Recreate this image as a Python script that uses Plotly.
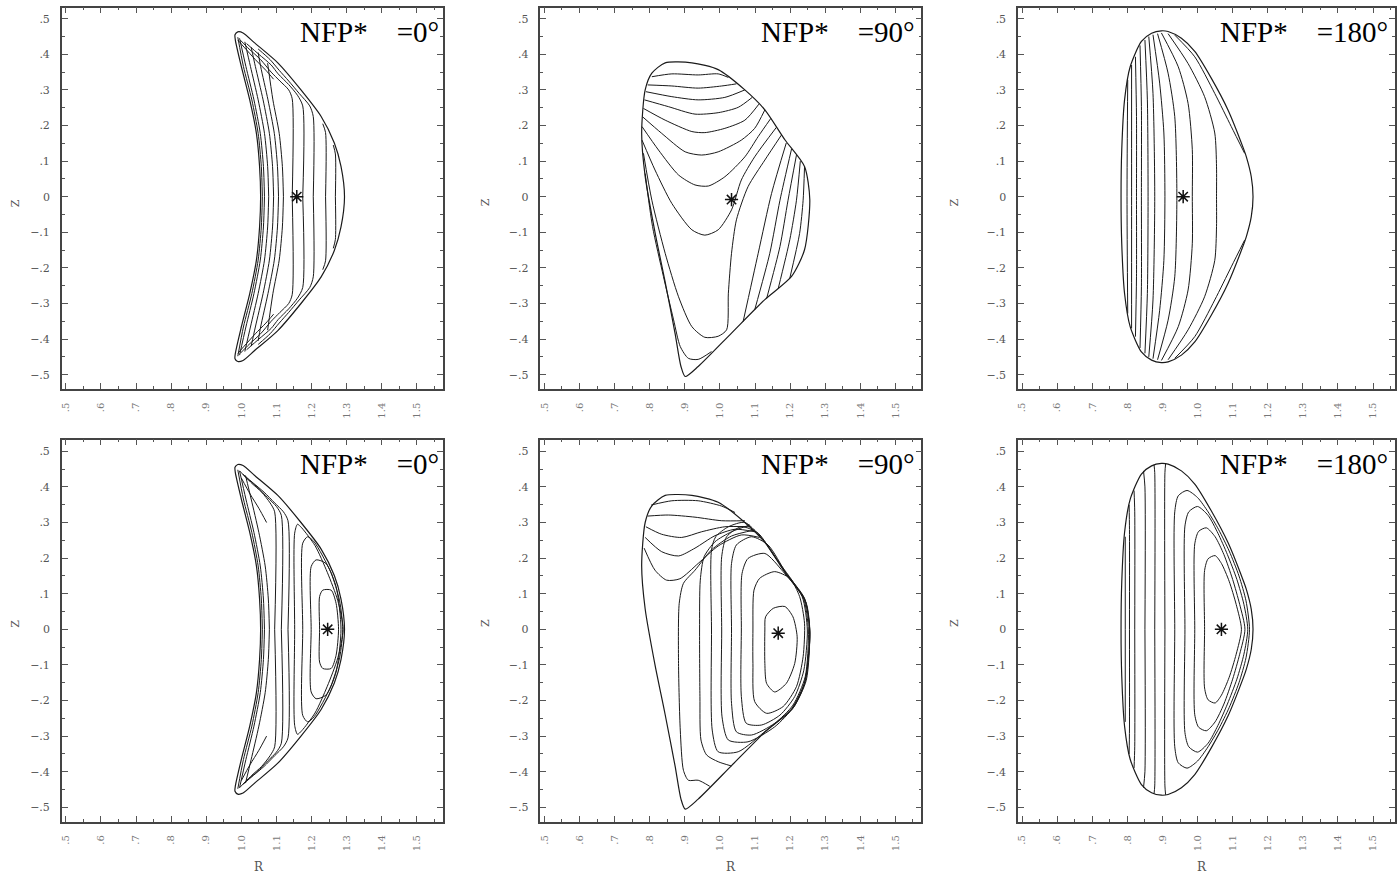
import plotly.graph_objects as go

# ---------------- axis ticks ----------------
X_TICKS = [0.5, 0.6, 0.7, 0.8, 0.9, 1.0, 1.1, 1.2, 1.3, 1.4, 1.5]
X_TICKTEXT = [".5", ".6", ".7", ".8", ".9", "1.0", "1.1", "1.2", "1.3", "1.4", "1.5"]
Y_TICKS = [0.5, 0.4, 0.3, 0.2, 0.1, 0.0, -0.1, -0.2, -0.3, -0.4, -0.5]
Y_TICKTEXT = [".5", ".4", ".3", ".2", ".1", "0", "\u2212.1", "\u2212.2", "\u2212.3", "\u2212.4", "\u2212.5"]
PANEL_LABELS = ["NFP*\u00a0\u00a0\u00a0\u00a0=0\u00b0", "NFP*\u00a0\u00a0\u00a0\u00a0=90\u00b0", "NFP*\u00a0\u00a0\u00a0\u00a0=180\u00b0"]

# ---------------- boundaries (R, Z) ----------------
# up-down symmetric sections: upper half only (Z >= 0), mirrored below
BND0_R = [1.055, 1.052, 1.043, 1.024, 1.000, 0.983, 0.982, 0.990, 1.005, 1.038, 1.104, 1.170, 1.227, 1.265, 1.284, 1.294]
BND0_Z = [0.000, 0.085, 0.178, 0.272, 0.366, 0.440, 0.455, 0.463, 0.460, 0.432, 0.376, 0.300, 0.226, 0.151, 0.085, 0.000]

BND180_R = [0.782, 0.784, 0.792, 0.808, 0.840, 0.869, 0.897, 0.916, 0.954, 0.992, 1.039, 1.087, 1.129, 1.139, 1.153, 1.158]
BND180_Z = [0.000, 0.132, 0.272, 0.365, 0.436, 0.459, 0.466, 0.464, 0.445, 0.408, 0.333, 0.243, 0.140, 0.112, 0.056, 0.000]

# 90 deg section: full closed outline
BND90_R = [0.787, 0.806, 0.844, 0.920, 0.995, 1.071, 1.128, 1.185, 1.241, 1.256, 1.241, 1.204, 1.128, 1.033,
           0.938, 0.901, 0.889, 0.872, 0.844, 0.815, 0.787, 0.777, 0.787]
BND90_Z = [0.300, 0.347, 0.376, 0.376, 0.357, 0.300, 0.244, 0.160, 0.085, -0.008, -0.149, -0.224, -0.289, -0.383,
           -0.477, -0.505, -0.477, -0.383, -0.240, -0.100, 0.057, 0.179, 0.300]

# ---------------- magnetic axes ----------------
AXIS_R = [1.158, 1.033, 0.959, 1.246, 1.166, 1.068]
AXIS_Z = [0.000, -0.008, 0.000, 0.000, -0.011, 0.000]

# ---------------- panel 1 (top, 0 deg) : upper halves ----------------
P1_CURVES = [
    ([1.060, 1.057, 1.048, 1.030, 1.006, 0.990], [0, 0.085, 0.178, 0.272, 0.366, 0.448]),
    ([1.066, 1.063, 1.054, 1.036, 1.013, 0.995], [0, 0.085, 0.178, 0.272, 0.366, 0.445]),
    ([1.078, 1.075, 1.066, 1.048, 1.026, 1.010], [0, 0.085, 0.178, 0.272, 0.366, 0.435]),
    ([1.092, 1.089, 1.080, 1.062, 1.040, 1.028], [0, 0.085, 0.178, 0.272, 0.366, 0.420]),
    ([1.106, 1.103, 1.094, 1.076, 1.055, 1.048], [0, 0.085, 0.178, 0.272, 0.366, 0.405]),
    ([1.120, 1.117, 1.108, 1.090, 1.075], [0, 0.085, 0.178, 0.272, 0.375]),
    ([1.092, 1.070, 1.040, 1.008, 0.990], [0.330, 0.355, 0.385, 0.420, 0.440]),
    ([1.145, 1.145, 1.135, 1.110, 1.085, 1.055, 1.022, 0.997], [0, 0.275, 0.300, 0.325, 0.350, 0.385, 0.415, 0.440]),
    ([1.175, 1.175, 1.160, 1.135, 1.105, 1.085, 1.050, 1.015], [0, 0.255, 0.285, 0.315, 0.345, 0.370, 0.400, 0.430]),
    ([1.205, 1.205, 1.195, 1.165, 1.135, 1.108, 1.082, 1.048], [0, 0.225, 0.255, 0.290, 0.325, 0.355, 0.385, 0.415]),
    ([1.240, 1.240, 1.232], [0, 0.180, 0.205]),
    ([1.268, 1.268, 1.262], [0, 0.120, 0.145]),
]

# ---------------- panel 4 (bottom, 0 deg) : upper halves ----------------
P4_CURVES = [
    ([1.223, 1.223, 1.232, 1.256, 1.270, 1.277], [0, 0.092, 0.110, 0.110, 0.073, 0]),
    ([1.199, 1.199, 1.213, 1.241, 1.270, 1.284], [0, 0.176, 0.195, 0.185, 0.120, 0]),
    ([1.175, 1.175, 1.189, 1.208, 1.255, 1.280, 1.289], [0, 0.242, 0.260, 0.245, 0.160, 0.080, 0]),
    ([1.152, 1.152, 1.160, 1.172, 1.210, 1.245, 1.275, 1.290], [0, 0.270, 0.295, 0.285, 0.235, 0.160, 0.080, 0]),
    ([1.133, 1.133, 1.120, 1.095, 1.065, 1.035, 1.005], [0, 0.305, 0.330, 0.355, 0.385, 0.410, 0.435]),
    ([1.114, 1.114, 1.100, 1.075, 1.045, 1.015, 0.995], [0, 0.320, 0.345, 0.370, 0.400, 0.425, 0.445]),
    ([1.095, 1.095, 1.082, 1.058, 1.030, 1.005], [0, 0.330, 0.355, 0.385, 0.410, 0.435]),
    ([1.060, 1.057, 1.048, 1.030, 1.006, 0.990], [0, 0.085, 0.178, 0.272, 0.366, 0.448]),
    ([1.066, 1.063, 1.054, 1.036, 1.013, 0.995], [0, 0.085, 0.178, 0.272, 0.366, 0.445]),
    ([1.080, 1.077, 1.068, 1.050, 1.028, 1.012], [0, 0.085, 0.178, 0.272, 0.366, 0.432]),
    ([1.072, 1.050, 1.025, 1.000], [0.300, 0.340, 0.380, 0.425]),
]

# ---------------- panel 3 (top, 180 deg) : upper halves ----------------
P3_CURVES = [
    ([0.935, 0.992, 1.049, 1.096, 1.134], [0.454, 0.393, 0.290, 0.197, 0.122]),
    ([0.916, 0.973, 1.020, 1.049, 1.054, 1.054], [0.458, 0.374, 0.281, 0.179, 0.084, 0]),
    ([0.897, 0.945, 0.973, 0.985, 0.985], [0.460, 0.365, 0.262, 0.132, 0]),
    ([0.886, 0.916, 0.935, 0.941], [0.458, 0.347, 0.225, 0]),
    ([0.873, 0.892, 0.904, 0.907], [0.455, 0.319, 0.179, 0]),
    ([0.861, 0.873, 0.878], [0.450, 0.290, 0]),
    ([0.850, 0.857, 0.859], [0.440, 0.272, 0]),
    ([0.836, 0.840, 0.840], [0.425, 0.253, 0]),
    ([0.823, 0.826, 0.826], [0.393, 0.225, 0]),
    ([0.812, 0.812], [0.370, 0]),
    ([0.801, 0.799], [0.328, 0]),
]

# ---------------- panel 6 (bottom, 180 deg) : upper halves ----------------
P6_CURVES = [
    ([1.020, 1.020, 1.030, 1.050, 1.068, 1.090, 1.110, 1.125], [0, 0.165, 0.198, 0.207, 0.185, 0.135, 0.070, 0]),
    ([0.992, 0.992, 1.003, 1.025, 1.050, 1.075, 1.100, 1.120, 1.135], [0, 0.240, 0.275, 0.285, 0.260, 0.210, 0.140, 0.070, 0]),
    ([0.964, 0.964, 0.975, 1.000, 1.030, 1.058, 1.085, 1.112, 1.132, 1.143], [0, 0.290, 0.330, 0.345, 0.320, 0.270, 0.210, 0.140, 0.070, 0]),
    ([0.935, 0.935, 0.945, 0.970, 1.000, 1.030, 1.060, 1.090, 1.118, 1.138, 1.148], [0, 0.330, 0.375, 0.390, 0.370, 0.330, 0.280, 0.220, 0.150, 0.080, 0]),
    ([0.907, 0.907, 0.909], [0, 0.440, 0.465]),
    ([0.878, 0.878, 0.876], [0, 0.440, 0.462]),
    ([0.850, 0.850, 0.846], [0, 0.400, 0.445]),
    ([0.821, 0.821, 0.819], [0, 0.330, 0.390]),
    ([0.806, 0.806, 0.805], [0, 0.280, 0.350]),
    ([0.794, 0.794], [0, 0.260]),
]

# ---------------- panel 2 (top, 90 deg) : full curves ----------------
P2_CURVES = [
    ([0.806, 0.863, 0.938, 0.995, 1.024], [0.337, 0.345, 0.342, 0.345, 0.335]),
    ([0.794, 0.863, 0.938, 1.005, 1.047], [0.314, 0.311, 0.305, 0.311, 0.317]),
    ([0.789, 0.863, 0.938, 1.014, 1.071], [0.295, 0.281, 0.272, 0.279, 0.300]),
    ([0.785, 0.853, 0.929, 0.995, 1.052, 1.092], [0.272, 0.253, 0.232, 0.236, 0.251, 0.279]),
    ([0.782, 0.844, 0.920, 0.957, 1.014, 1.071, 1.111], [0.248, 0.215, 0.183, 0.180, 0.192, 0.215, 0.260]),
    ([0.779, 0.834, 0.901, 0.948, 0.995, 1.061, 1.099, 1.128], [0.225, 0.178, 0.126, 0.117, 0.126, 0.159, 0.192, 0.244]),
    ([0.778, 0.825, 0.882, 0.929, 0.967, 1.014, 1.071, 1.109, 1.145], [0.197, 0.131, 0.061, 0.033, 0.030, 0.056, 0.112, 0.169, 0.220]),
    ([0.778, 0.815, 0.863, 0.920, 0.957, 0.995, 1.033, 1.061, 1.099, 1.161],
     [0.159, 0.075, -0.019, -0.093, -0.108, -0.093, -0.037, 0.047, 0.112, 0.195]),
    ([0.782, 0.806, 0.844, 0.882, 0.920, 0.957, 0.995, 1.019, 1.024, 1.033, 1.047, 1.080, 1.128, 1.175],
     [0.122, -0.010, -0.159, -0.281, -0.365, -0.395, -0.392, -0.374, -0.271, -0.159, -0.065, 0.028, 0.103, 0.173]),
    ([0.787, 0.808, 0.839, 0.868, 0.887, 0.910, 0.938, 0.976], [0.065, -0.084, -0.224, -0.346, -0.421, -0.454, -0.457, -0.435]),
    ([1.241, 1.237, 1.227, 1.199], [0.084, -0.010, -0.103, -0.229]),
    ([1.229, 1.218, 1.199, 1.166], [0.100, -0.010, -0.121, -0.258]),
    ([1.218, 1.194, 1.171, 1.133], [0.117, -0.010, -0.140, -0.286]),
    ([1.204, 1.171, 1.142, 1.099], [0.134, -0.010, -0.159, -0.318]),
    ([1.189, 1.147, 1.109, 1.066], [0.151, 0.009, -0.159, -0.351]),
]

# ---------------- panel 5 (bottom, 90 deg) : full curves ----------------
P5_CURVES = [
    ([0.804, 0.863, 0.938, 1.005, 1.043], [0.349, 0.361, 0.361, 0.346, 0.328]),
    ([0.794, 0.853, 0.929, 1.005, 1.071], [0.318, 0.321, 0.315, 0.305, 0.305]),
    ([0.789, 0.834, 0.891, 0.948, 1.014, 1.085], [0.288, 0.267, 0.258, 0.274, 0.288, 0.288]),
    ([0.787, 0.834, 0.882, 0.929, 0.986, 1.043, 1.099], [0.258, 0.218, 0.206, 0.228, 0.263, 0.281, 0.274]),
    ([0.784, 0.815, 0.848, 0.886, 0.938, 0.995, 1.061, 1.113],
     [0.228, 0.166, 0.138, 0.142, 0.185, 0.234, 0.265, 0.258]),
    ([1.128, 1.130, 1.152, 1.185, 1.208, 1.220, 1.213, 1.189, 1.156, 1.133, 1.128, 1.128],
     [-0.002, 0.035, 0.059, 0.064, 0.035, -0.021, -0.096, -0.152, -0.176, -0.152, -0.096, -0.002]),
    ([1.094, 1.097, 1.113, 1.156, 1.199, 1.227, 1.241, 1.237, 1.218, 1.180, 1.133, 1.099, 1.094, 1.094],
     [-0.002, 0.110, 0.143, 0.162, 0.143, 0.092, 0.017, -0.077, -0.161, -0.217, -0.236, -0.203, -0.096, -0.002]),
    ([1.061, 1.063, 1.080, 1.128, 1.180, 1.234, 1.249, 1.239, 1.213, 1.171, 1.118, 1.075, 1.061, 1.061],
     [-0.002, 0.157, 0.199, 0.213, 0.162, 0.092, -0.002, -0.115, -0.189, -0.241, -0.269, -0.264, -0.189, -0.002]),
    ([1.033, 1.033, 1.047, 1.090, 1.137, 1.189, 1.238, 1.252, 1.243, 1.208, 1.156, 1.090, 1.047, 1.033, 1.033],
     [-0.002, 0.185, 0.237, 0.260, 0.237, 0.157, 0.087, -0.002, -0.133, -0.213, -0.264, -0.297, -0.288, -0.208, -0.002]),
    ([1.005, 1.005, 1.019, 1.061, 1.109, 1.156, 1.208, 1.246, 1.256, 1.246, 1.211, 1.156, 1.080, 1.024, 1.006, 1.005],
     [-0.002, 0.204, 0.260, 0.288, 0.270, 0.204, 0.134, 0.073, -0.002, -0.143, -0.217, -0.274, -0.316, -0.311, -0.246, -0.002]),
    ([0.976, 0.976, 0.988, 1.024, 1.071, 1.128, 1.185, 1.241, 1.256, 1.243, 1.208, 1.133, 1.052, 0.995, 0.978, 0.976],
     [-0.002, 0.223, 0.260, 0.288, 0.300, 0.246, 0.162, 0.087, -0.007, -0.147, -0.222, -0.283, -0.344, -0.344, -0.283, -0.002]),
    ([1.085, 1.033, 0.986, 0.955, 0.944, 0.942, 0.943, 0.946, 0.962, 0.995, 1.033],
     [0.293, 0.274, 0.246, 0.204, 0.138, -0.002, -0.189, -0.311, -0.353, -0.372, -0.384]),
    ([1.099, 1.033, 0.976, 0.929, 0.896, 0.884, 0.882, 0.887, 0.896, 0.910, 0.938, 0.971],
     [0.279, 0.262, 0.223, 0.166, 0.129, 0.073, -0.096, -0.283, -0.396, -0.424, -0.424, -0.441]),
]


def mirror(r, z):
    """Complete an upper-half curve of an up-down symmetric section."""
    r, z = list(r), list(z)
    if z[-1] == 0:
        return r + r[-2::-1], z + [-v for v in z[-2::-1]]
    return r + [None] + r, z + [None] + [-v for v in z]


def collect(curves, symmetric):
    xs, ys = [], []
    for r, z in curves:
        if symmetric:
            r, z = mirror(r, z)
        xs += list(r) + [None]
        ys += list(z) + [None]
    return xs, ys


b0 = mirror(BND0_R, BND0_Z)
b180 = mirror(BND180_R, BND180_Z)
b90 = (BND90_R, BND90_Z)

panels = [
    (b0, collect(P1_CURVES, True)),
    (b90, collect(P2_CURVES, False)),
    (b180, collect(P3_CURVES, True)),
    (b0, collect(P4_CURVES, True)),
    (b90, collect(P5_CURVES, False)),
    (b180, collect(P6_CURVES, True)),
]

W, H = 1397, 895
col_px = [(60, 442), (540, 922), (1019, 1397)]
row_px = [(7.5, 389.0), (439.5, 821.5)]
row_zero = [196.7, 629.3]
PX_PER_UNIT_X = 352.0
PX_PER_UNIT_Y = 356.0

SERIF = "Liberation Serif, Times New Roman, Times, serif"

fig = go.Figure()
layout = dict(width=W, height=H, margin=dict(l=0, r=0, t=0, b=0), autosize=False,
              paper_bgcolor="white", plot_bgcolor="white", showlegend=False)

LINE = "#1a1a1a"
for i, ((br, bz), (cx, cy)) in enumerate(panels):
    row, col = divmod(i, 3)
    n = "" if i == 0 else str(i + 1)
    xa, ya = "x" + n, "y" + n
    fig.add_trace(go.Scatter(x=cx, y=cy, mode="lines", xaxis=xa, yaxis=ya,
                             line=dict(color=LINE, width=1, shape="spline", smoothing=0.7),
                             hoverinfo="skip"))
    fig.add_trace(go.Scatter(x=br, y=bz, mode="lines", xaxis=xa, yaxis=ya,
                             line=dict(color=LINE, width=1.2, shape="spline", smoothing=0.7),
                             hoverinfo="skip"))
    fig.add_trace(go.Scatter(x=[AXIS_R[i]], y=[AXIS_Z[i]], mode="markers", xaxis=xa, yaxis=ya,
                             marker=dict(symbol="asterisk-open", size=11, color="#111",
                                         line=dict(width=1.5, color="#111")),
                             hoverinfo="skip"))
    x0p, x1p = col_px[col]
    y0p, y1p = row_px[row]
    left_val = 0.5 - 4.0 / PX_PER_UNIT_X
    right_val = left_val + (x1p - x0p) / PX_PER_UNIT_X
    top_val = (row_zero[row] - y0p) / PX_PER_UNIT_Y
    bot_val = (row_zero[row] - y1p) / PX_PER_UNIT_Y
    common = dict(showline=True, linecolor="#444", linewidth=1.5, mirror="ticks",
                  ticks="inside", ticklen=6, tickwidth=1, tickcolor="#555",
                  showgrid=False, zeroline=False, fixedrange=True)
    layout["xaxis" + n] = dict(common, domain=[x0p / W, min(1.0, x1p / W)], range=[left_val, right_val],
                               anchor=ya, tickmode="array", tickvals=X_TICKS, ticktext=X_TICKTEXT,
                               tickangle=-90, ticklabelstandoff=8,
                               tickfont=dict(family="DejaVu Serif", size=10, color="#777"),
                               minor=dict(ticks="inside", ticklen=3, tick0=0.5, dtick=0.05,
                                          tickcolor="#555", showgrid=False))
    layout["yaxis" + n] = dict(common, domain=[1 - y1p / H, 1 - y0p / H], range=[bot_val, top_val],
                               anchor=xa, tickmode="array", tickvals=Y_TICKS, ticktext=Y_TICKTEXT,
                               ticklabelstandoff=8,
                               tickfont=dict(family="DejaVu Serif", size=11, color="#555"),
                               minor=dict(ticks="inside", ticklen=3, tick0=0.0, dtick=0.05,
                                          tickcolor="#555", showgrid=False))

fig.update_layout(**layout)

annotations = []
for row in range(2):
    for col in range(3):
        x0p, x1p = col_px[col]
        right_edge = [440, 918, 1392][col]
        annotations.append(dict(xref="paper", yref="paper", x=right_edge / W,
                                y=1 - ([14, 446][row]) / H, xanchor="right", yanchor="top",
                                text=PANEL_LABELS[col], showarrow=False,
                                font=dict(family=SERIF, size=29, color="#000")))
        annotations.append(dict(xref="paper", yref="paper", x=(x0p - 55) / W, y=1 - row_zero[row] / H,
                                text="Z", textangle=-90, showarrow=False,
                                font=dict(family="DejaVu Serif", size=11, color="#555")))
        if row == 1:
            annotations.append(dict(xref="paper", yref="paper", x=(x0p + 191) / W, y=1 - 876 / H,
                                    text="R", showarrow=False,
                                    font=dict(family="DejaVu Serif", size=12, color="#555")))
fig.update_layout(annotations=annotations)

fig.write_html("out.html")
